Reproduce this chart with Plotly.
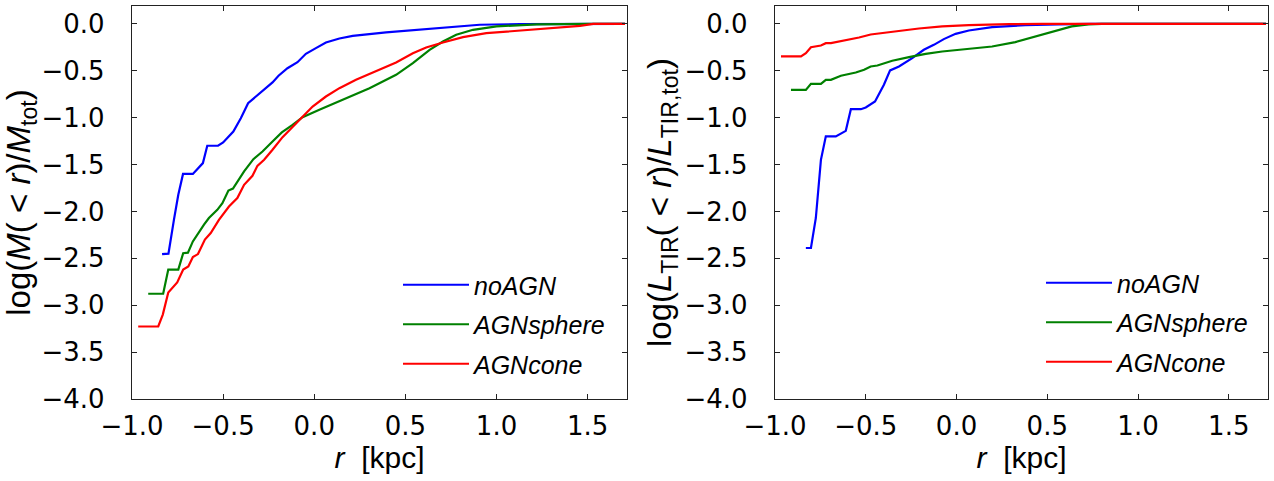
import plotly.graph_objects as go

# ---------------- data ----------------
series_names = ["noAGN", "AGNsphere", "AGNcone"]
series_colors = ["#0000ff", "#008000", "#ff0000"]

# Left panel: log(M(<r)/M_tot)
m_noagn_r = [-0.835, -0.80, -0.77, -0.746, -0.72, -0.666, -0.611, -0.587, -0.528, -0.50, -0.444, -0.403,
             -0.363, -0.30, -0.229, -0.196, -0.147, -0.092, -0.046, 0.009, 0.064, 0.138, 0.211, 0.394,
             0.578, 0.761, 0.908, 1.13, 1.40, 1.705]
m_noagn_v = [-2.455, -2.45, -2.09, -1.823, -1.60, -1.60, -1.485, -1.30, -1.30, -1.265, -1.148, -1.006,
             -0.846, -0.746, -0.625, -0.554, -0.473, -0.409, -0.32, -0.259, -0.199, -0.156, -0.128, -0.092,
             -0.06, -0.028, -0.01, -0.003, 0.0, 0.0]

m_sphere_r = [-0.911, -0.829, -0.801, -0.746, -0.719, -0.693, -0.666, -0.636, -0.605, -0.578, -0.532,
              -0.504, -0.471, -0.446, -0.385, -0.334, -0.284, -0.229, -0.178, -0.119, -0.064, 0.028,
              0.138, 0.303, 0.449, 0.541, 0.633, 0.706, 0.779, 0.871, 1.0, 1.22, 1.5, 1.705]
m_sphere_v = [-2.878, -2.878, -2.62, -2.62, -2.445, -2.44, -2.32, -2.225, -2.14, -2.07, -1.983,
              -1.912, -1.777, -1.756, -1.574, -1.443, -1.361, -1.255, -1.158, -1.077, -0.995, -0.917,
              -0.828, -0.686, -0.544, -0.419, -0.277, -0.188, -0.117, -0.064, -0.028, -0.005, 0.0, 0.0]

m_cone_r = [-0.966, -0.856, -0.831, -0.801, -0.752, -0.719, -0.691, -0.666, -0.638, -0.60, -0.568,
            -0.523, -0.468, -0.422, -0.385, -0.339, -0.312, -0.275, -0.229, -0.174, -0.119, -0.064,
            -0.009, 0.064, 0.138, 0.229, 0.339, 0.449, 0.541, 0.614, 0.706, 0.816, 0.944, 1.128,
            1.311, 1.458, 1.531, 1.705]
m_cone_v = [-3.227, -3.227, -3.10, -2.864, -2.757, -2.62, -2.587, -2.487, -2.455, -2.30, -2.23,
            -2.09, -1.948, -1.858, -1.716, -1.62, -1.514, -1.45, -1.343, -1.208, -1.101, -0.988,
            -0.882, -0.775, -0.686, -0.597, -0.508, -0.412, -0.313, -0.252, -0.199, -0.142, -0.10, -0.071,
            -0.046, -0.021, 0.0, 0.0]

# Right panel: log(L_TIR(<r)/L_TIR,tot)
l_noagn_r = [-0.83, -0.802, -0.775, -0.747, -0.72, -0.665, -0.61, -0.582, -0.527, -0.50, -0.449, -0.40,
             -0.366, -0.317, -0.244, -0.18, -0.125, -0.07, -0.005, 0.068, 0.196, 0.379, 0.56, 0.74, 1.705]
l_noagn_v = [-2.39, -2.39, -2.07, -1.45, -1.20, -1.20, -1.141, -0.91, -0.91, -0.892, -0.828, -0.65,
             -0.497, -0.455, -0.366, -0.277, -0.224, -0.163, -0.107, -0.071, -0.036, -0.014, -0.005, 0.0, 0.0]

l_sphere_r = [-0.912, -0.83, -0.802, -0.747, -0.72, -0.692, -0.637, -0.555, -0.509, -0.473, -0.436,
              -0.354, -0.262, -0.17, -0.079, 0.049, 0.196, 0.324, 0.415, 0.525, 0.635, 0.727, 0.80, 1.705]
l_sphere_v = [-0.704, -0.704, -0.64, -0.64, -0.597, -0.597, -0.554, -0.519, -0.49, -0.455, -0.444,
              -0.394, -0.355, -0.32, -0.295, -0.27, -0.242, -0.195, -0.146, -0.082, -0.028, -0.005, 0.0, 0.0]

l_cone_r = [-0.967, -0.857, -0.83, -0.802, -0.747, -0.72, -0.692, -0.637, -0.582, -0.537, -0.473,
            -0.409, -0.317, -0.207, -0.079, 0.068, 0.288, 0.47, 1.705]
l_cone_v = [-0.348, -0.348, -0.313, -0.249, -0.231, -0.206, -0.206, -0.185, -0.16, -0.146, -0.114,
            -0.099, -0.075, -0.05, -0.028, -0.014, -0.004, 0.0, 0.0]

x_range = [-1.0, 1.716]
y_range = [-4.0, 0.19]
x_tickvals = [-1.0, -0.5, 0.0, 0.5, 1.0, 1.5]
x_ticktext = ["\u22121.0", "\u22120.5", "0.0", "0.5", "1.0", "1.5"]
y_tickvals = [0.0, -0.5, -1.0, -1.5, -2.0, -2.5, -3.0, -3.5, -4.0]
y_ticktext = ["0.0", "\u22120.5", "\u22121.0", "\u22121.5", "\u22122.0",
              "\u22122.5", "\u22123.0", "\u22123.5", "\u22124.0"]

# ---------------- figure ----------------
W, H = 1274, 481
fig = go.Figure()

left = [(m_noagn_r, m_noagn_v), (m_sphere_r, m_sphere_v), (m_cone_r, m_cone_v)]
right = [(l_noagn_r, l_noagn_v), (l_sphere_r, l_sphere_v), (l_cone_r, l_cone_v)]

for (xs, ys), name, col in zip(left, series_names, series_colors):
    fig.add_trace(go.Scatter(x=xs, y=ys, mode="lines", name="<i>%s</i>" % name,
                             line=dict(color=col, width=2.2), xaxis="x", yaxis="y",
                             legend="legend", legendgroup="L" + name))
for (xs, ys), name, col in zip(right, series_names, series_colors):
    fig.add_trace(go.Scatter(x=xs, y=ys, mode="lines", name="<i>%s</i>" % name,
                             line=dict(color=col, width=2.2), xaxis="x2", yaxis="y2",
                             legend="legend2", legendgroup="R" + name))

tickfont = dict(family="DejaVu Sans", size=26, color="black")
xtitlefont = dict(family="Liberation Sans", size=30, color="black")
ytitlefont = dict(family="Liberation Sans", size=33, color="black")
legfont = dict(family="Liberation Sans", size=25, color="black")

common_ax = dict(showgrid=False, zeroline=False, showline=True, linecolor="#222222",
                 linewidth=1.3, mirror="allticks", ticks="inside", ticklen=5, tickwidth=1,
                 tickcolor="#222222", tickfont=tickfont, automargin=False)

y0 = 1 - 399 / H
y1 = 1 - 6 / H

ylab_left = "log(<i>M</i>( &lt; <i>r</i>)/<i>M</i><sub>tot</sub>)"
ylab_right = "log(<i>L</i><sub>TIR</sub>( &lt; <i>r</i>)/<i>L</i><sub>TIR,tot</sub>)"
xlab = "<i>r</i>  [kpc]"

fig.update_layout(
    width=W, height=H,
    margin=dict(l=0, r=0, t=0, b=0),
    paper_bgcolor="white", plot_bgcolor="white",
    xaxis=dict(common_ax, domain=[132 / W, 627 / W], range=x_range, anchor="y",
               tickvals=x_tickvals, ticktext=x_ticktext, ticklabelstandoff=4,
               title=dict(text=xlab, font=xtitlefont, standoff=4)),
    yaxis=dict(common_ax, domain=[y0, y1], range=y_range, anchor="x",
               tickvals=y_tickvals, ticktext=y_ticktext, ticklabelstandoff=21,
               title=dict(text=ylab_left, font=ytitlefont, standoff=2)),
    xaxis2=dict(common_ax, domain=[775 / W, 1268 / W], range=x_range, anchor="y2",
                tickvals=x_tickvals, ticktext=x_ticktext, ticklabelstandoff=4,
                title=dict(text=xlab, font=xtitlefont, standoff=4)),
    yaxis2=dict(common_ax, domain=[y0, y1], range=y_range, anchor="x2",
                tickvals=y_tickvals, ticktext=y_ticktext, ticklabelstandoff=21,
                title=dict(text=ylab_right, font=ytitlefont, standoff=2)),
    legend=dict(x=398 / W, y=1 - 262 / H, xanchor="left", yanchor="top",
                font=legfont, tracegroupgap=4,
                bgcolor="rgba(0,0,0,0)", borderwidth=0, itemwidth=66),
    legend2=dict(x=1041 / W, y=1 - 260 / H, xanchor="left", yanchor="top",
                 font=legfont, tracegroupgap=4,
                 bgcolor="rgba(0,0,0,0)", borderwidth=0, itemwidth=66),
    showlegend=True,
)

fig.write_html("out.html")
